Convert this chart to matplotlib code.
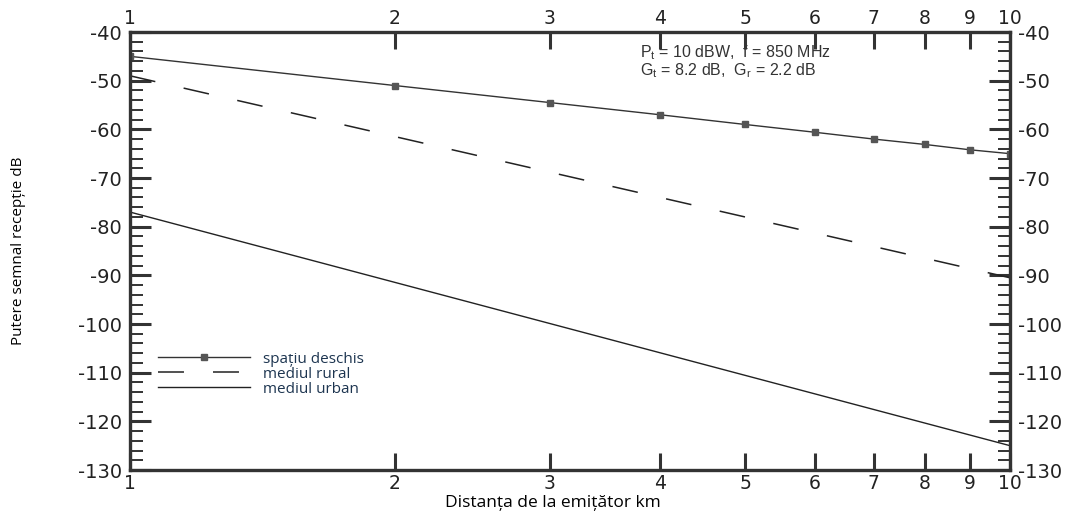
import matplotlib.pyplot as plt
from matplotlib.ticker import FixedLocator, MultipleLocator, NullLocator

plt.rcParams['axes.unicode_minus'] = False

# distance from transmitter, km
distances = [1, 2, 3, 4, 5, 6, 7, 8, 9, 10]
free_space = [-45, -51, -54.5, -57, -59, -60.6, -62, -63.1, -64.2, -65]
rural_x = [1, 10]
rural = [-49, -90.5]
urban_x = [1, 10]
urban = [-77, -125]

x_ticks = [1, 2, 3, 4, 5, 6, 7, 8, 9, 10]
x_labels = ["1", "2", "3", "4", "5", "6", "7", "8", "9", "10"]
y_ticks = [-40, -50, -60, -70, -80, -90, -100, -110, -120, -130]

tick_font = "DejaVu Sans"
note_font = "Liberation Sans"
label_font = "Open Sans"

fig = plt.figure(figsize=(10.88, 5.13), dpi=100)
ax = fig.add_axes([130 / 1088, 1 - 470 / 513, 880 / 1088, 438 / 513])

ax.plot(distances, free_space, color="#333333", lw=1.0, marker="s",
        markersize=4, markerfacecolor="#555555", markeredgecolor="#555555",
        label="spațiu deschis")
ax.plot(rural_x, rural, color="#222222", lw=1.1, dashes=(17, 19),
        label="mediul rural")
ax.plot(urban_x, urban, color="#222222", lw=1.0, label="mediul urban")

ax.set_xscale("log")
ax.set_xlim(1, 10)
ax.set_ylim(-130, -40)

ax.xaxis.set_major_locator(FixedLocator(x_ticks))
ax.xaxis.set_minor_locator(NullLocator())
ax.set_xticklabels(x_labels)
ax.yaxis.set_major_locator(FixedLocator(y_ticks))
ax.yaxis.set_minor_locator(MultipleLocator(2))

ax.tick_params(which="both", direction="in", top=True, right=True,
               labeltop=True, labelright=True, color="#333333",
               labelcolor="#222222")
ax.tick_params(axis="x", which="major", length=12, width=2.2, pad=3,
               labelsize=13.5)
ax.tick_params(axis="y", which="major", length=15, width=2.2, pad=6,
               labelsize=14)
ax.tick_params(axis="y", which="minor", length=9, width=1.4)
for t in ax.xaxis.get_major_ticks() + ax.yaxis.get_major_ticks():
    t.label1.set_fontfamily(tick_font)
    t.label2.set_fontfamily(tick_font)

for sp in ax.spines.values():
    sp.set_linewidth(2.4)
    sp.set_color("#333333")

ax.text(0.58, 0.953, r"P$_\mathregular{t}$ = 10 dBW,  f = 850 MHz",
        transform=ax.transAxes, fontsize=11.5, family=note_font,
        color="#333333", va="center")
ax.text(0.58, 0.911, r"G$_\mathregular{t}$ = 8.2 dB,  G$_\mathregular{r}$ = 2.2 dB",
        transform=ax.transAxes, fontsize=11.5, family=note_font,
        color="#333333", va="center")

ax.set_xlabel("Distanța de la emițător km", fontsize=12.5, family=label_font,
              va="baseline")
ax.xaxis.set_label_coords(0.48, -0.085)
ax.set_ylabel("Putere semnal recepție dB", fontsize=11, family=label_font)
ax.yaxis.set_label_coords(-0.118, 0.5)

leg = ax.legend(loc="upper left", bbox_to_anchor=(0.032, 0.27),
                frameon=False, handlelength=6, handletextpad=0.85,
                labelspacing=0.0, borderpad=0, borderaxespad=0,
                prop={"family": label_font, "size": 11})
for txt in leg.get_texts():
    txt.set_color("#1d3550")

fig.savefig("out.png", dpi=100)
plt.close(fig)
